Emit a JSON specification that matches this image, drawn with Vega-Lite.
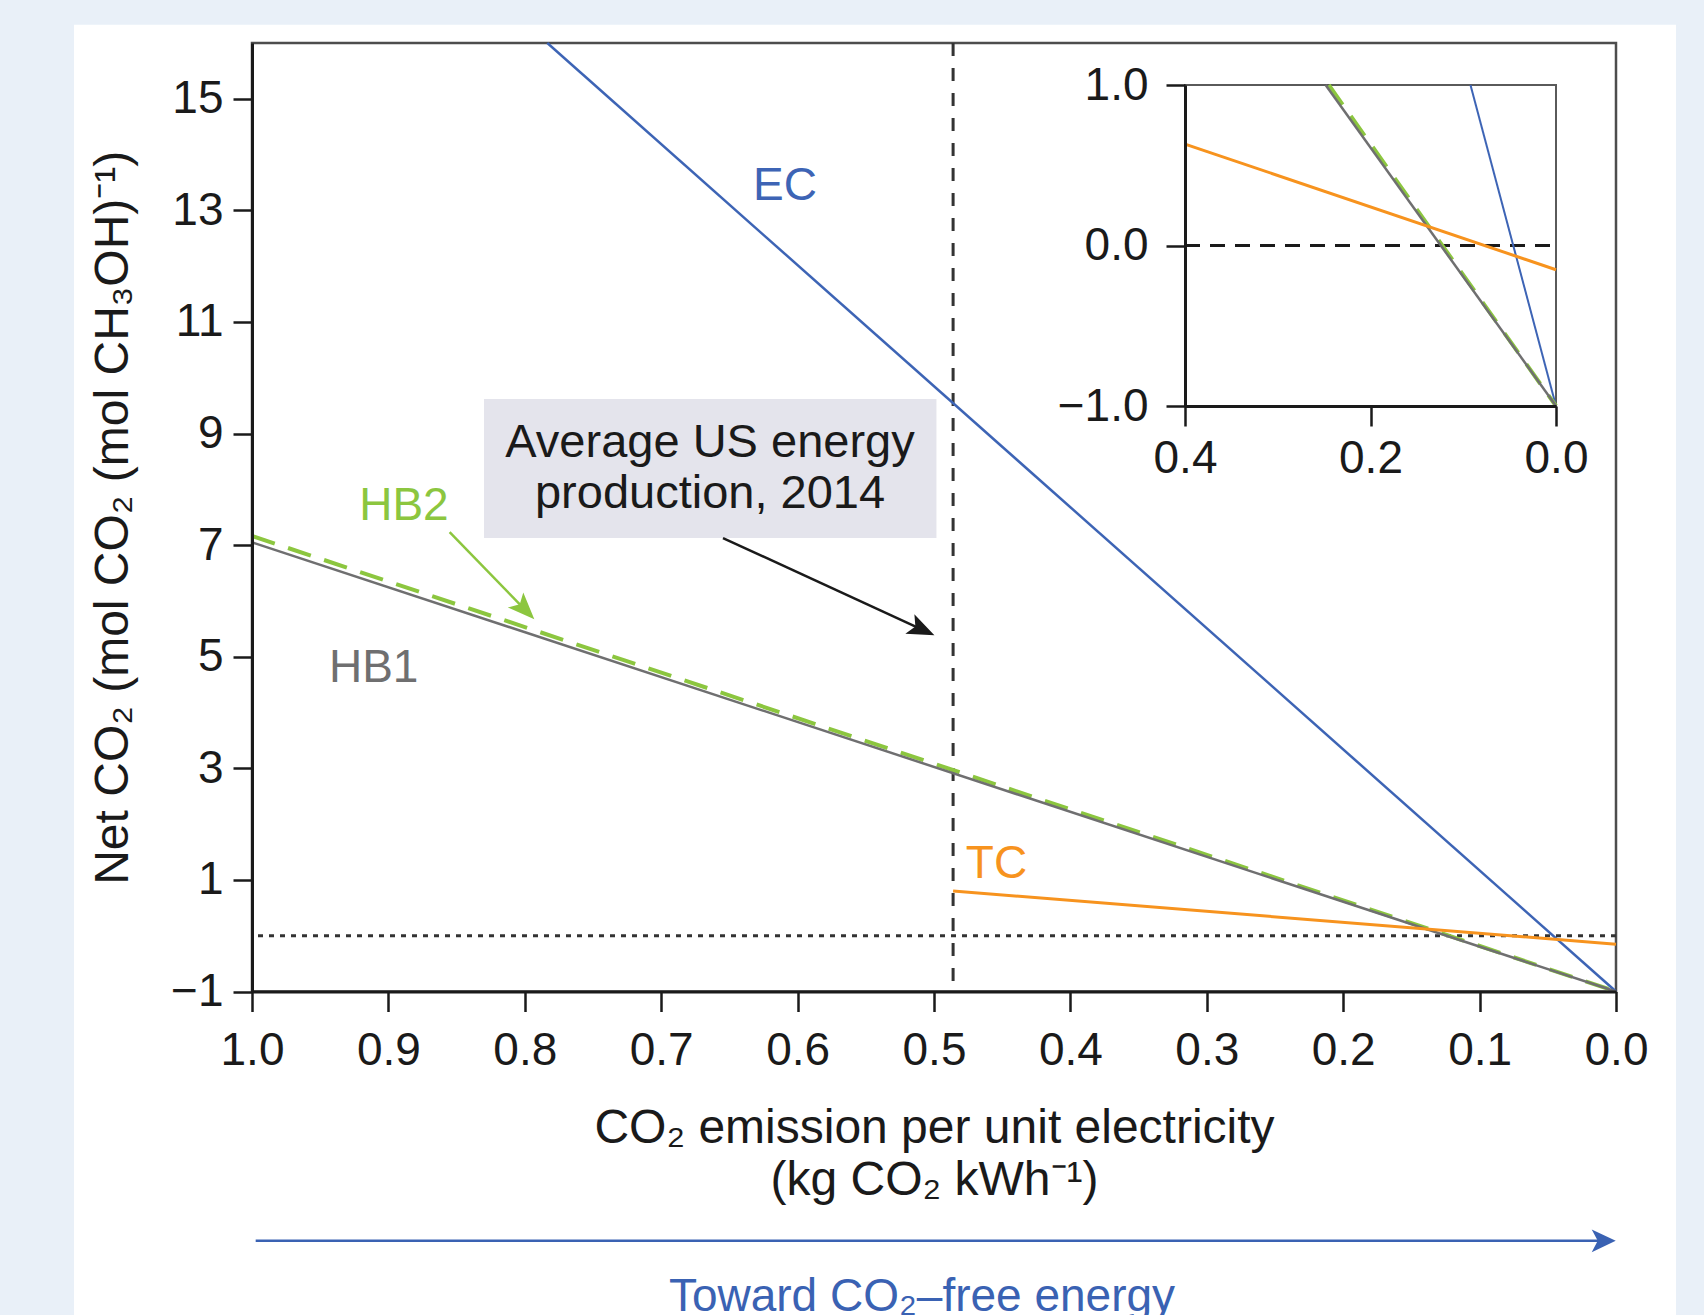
{
  "$schema": "https://vega.github.io/schema/vega-lite/v6.json",
  "width": 1364,
  "height": 948.5,
  "autosize": {"type": "none"},
  "padding": {"left": 252, "top": 43, "right": 88, "bottom": 323.5},
  "background": "white",
  "config": {
    "view": {"stroke": null},
    "font": "Liberation Sans",
    "axis": {
      "labelFont": "Liberation Sans",
      "titleFont": "Liberation Sans",
      "labelColor": "#1a1a1a",
      "titleColor": "#1a1a1a",
      "titleFontWeight": "normal",
      "grid": false,
      "domainColor": "#1a1a1a",
      "tickColor": "#1a1a1a",
      "domainWidth": 3,
      "tickWidth": 2.5,
      "labelFontSize": 46,
      "titleFontSize": 48
    }
  },
  "datasets": {
    "margins": [
      {"x": 1.1848, "x2": 1.1305, "y": 16.771, "y2": -6.9},
      {"x": 1.1848, "x2": -0.0646, "y": 16.771, "y2": 16.328},
      {"x": -0.044, "x2": -0.0646, "y": 16.771, "y2": -6.9}
    ],
    "frame": [{"x": 1, "x2": 0, "y": -1, "y2": 16}],
    "box": [{"x": 0.8299, "x2": 0.4982, "y": 9.619, "y2": 7.127}],
    "vline": [{"x": 0.486}],
    "hline": [{"y": 0}],
    "lines": [
      {"series": "EC", "x": 0.7835, "y": 16},
      {"series": "EC", "x": 0, "y": -1},
      {"series": "HB2", "x": 1, "y": 7.165},
      {"series": "HB2", "x": 0, "y": -1},
      {"series": "HB1", "x": 1, "y": 7.05},
      {"series": "HB1", "x": 0, "y": -1},
      {"series": "TC", "x": 0.486, "y": 0.8},
      {"series": "TC", "x": 0, "y": -0.151}
    ],
    "labels": [
      {"series": "EC", "x": 0.6092, "y": 13.44, "label": "EC"},
      {"series": "HB2", "x": 0.8886, "y": 7.71, "label": "HB2"},
      {"series": "HB1", "x": 0.9108, "y": 4.79, "label": "HB1"},
      {"series": "TC", "x": 0.4542, "y": 1.289, "label": "TC"}
    ],
    "note": [{"x": 0.6642, "y": 8.827, "label": "Average US energy\nproduction, 2014"}],
    "arrows": [
      {"series": "US", "x": 0.6547, "y": 7.127, "x2": 0.5087, "y2": 5.486},
      {"series": "HB2", "x": 0.8551, "y": 7.235, "x2": 0.7999, "y2": 5.844}
    ],
    "heads": [
      {"series": "US", "x": 0.5087, "y": 5.486},
      {"series": "HB2", "x": 0.7999, "y": 5.844}
    ],
    "toward": [{"x": 0.9973, "x2": 0.009, "y": -5.468, "label": "Toward CO₂–free energy", "tx": 0.5088, "ty": -6.73}],
    "insetframe": [{"x": 0.4, "x2": 0, "y": -1, "y2": 1}],
    "insetzero": [{"x": 0.4, "x2": 0, "y": 0}],
    "inset": [
      {"series": "EC", "x": 0.0922, "y": 1},
      {"series": "EC", "x": 0, "y": -1},
      {"series": "HB2", "x": 0.245, "y": 1},
      {"series": "HB2", "x": 0, "y": -1},
      {"series": "HB1", "x": 0.2484, "y": 1},
      {"series": "HB1", "x": 0, "y": -1},
      {"series": "TC", "x": 0.4, "y": 0.632},
      {"series": "TC", "x": 0, "y": -0.151}
    ]
  },
  "layer": [
    {
      "data": {"name": "margins"},
      "mark": {"type": "rect", "fill": "#e9f0f8", "clip": false},
      "encoding": {
        "x": {"field": "x", "type": "quantitative", "scale": {"domain": [1, 0], "nice": false, "zero": false}, "axis": null},
        "x2": {"field": "x2"},
        "y": {"field": "y", "type": "quantitative", "scale": {"domain": [-1, 16], "nice": false, "zero": false}, "axis": null},
        "y2": {"field": "y2"}
      }
    },
    {
      "data": {"name": "frame"},
      "mark": {"type": "rect", "fill": "white", "fillOpacity": 0, "stroke": "#4d4d4d", "strokeWidth": 2.5},
      "encoding": {
        "x": {
          "field": "x", "type": "quantitative",
          "scale": {"domain": [1, 0], "nice": false, "zero": false},
          "axis": {
            "orient": "bottom",
            "zindex": 2,
            "values": [1, 0.9, 0.8, 0.7, 0.6, 0.5, 0.4, 0.3, 0.2, 0.1, 0],
            "format": ".1f",
            "tickSize": 20,
            "labelPadding": 17,
            "labelFlush": false,
            "labelOverlap": false,
            "title": ["CO₂ emission per unit electricity", "(kg CO₂ kWh⁻¹)"],
            "titlePadding": 31,
            "titleLineHeight": 52
          }
        },
        "x2": {"field": "x2"},
        "y": {
          "field": "y", "type": "quantitative",
          "scale": {"domain": [-1, 16], "nice": false, "zero": false},
          "axis": {
            "orient": "left",
            "zindex": 2,
            "values": [-1, 1, 3, 5, 7, 9, 11, 13, 15],
            "tickSize": 19,
            "labelPadding": 10,
            "labelFlush": false,
            "labelOverlap": false,
            "title": "Net CO₂ (mol CO₂ (mol CH₃OH)⁻¹)",
            "titlePadding": 33
          }
        },
        "y2": {"field": "y2"}
      }
    },
    {
      "data": {"name": "box"},
      "mark": {"type": "rect", "fill": "#e4e4ec"},
      "encoding": {
        "x": {"field": "x", "type": "quantitative", "scale": {"domain": [1, 0], "nice": false, "zero": false}, "axis": null},
        "x2": {"field": "x2"},
        "y": {"field": "y", "type": "quantitative", "scale": {"domain": [-1, 16], "nice": false, "zero": false}, "axis": null},
        "y2": {"field": "y2"}
      }
    },
    {
      "data": {"name": "vline"},
      "mark": {"type": "rule", "color": "#333333", "strokeWidth": 3, "strokeDash": [13, 12]},
      "encoding": {"x": {"field": "x", "type": "quantitative", "scale": {"domain": [1, 0], "nice": false, "zero": false}, "axis": null}}
    },
    {
      "data": {"name": "hline"},
      "mark": {"type": "rule", "color": "#333333", "strokeWidth": 3, "strokeDash": [5, 6]},
      "encoding": {"y": {"field": "y", "type": "quantitative", "scale": {"domain": [-1, 16], "nice": false, "zero": false}, "axis": null}}
    },
    {
      "data": {"name": "lines"},
      "transform": [{"filter": "datum.series === 'EC'"}],
      "mark": {"type": "line", "strokeWidth": 2.5},
      "encoding": {
        "x": {"field": "x", "type": "quantitative", "scale": {"domain": [1, 0], "nice": false, "zero": false}, "axis": null},
        "y": {"field": "y", "type": "quantitative", "scale": {"domain": [-1, 16], "nice": false, "zero": false}, "axis": null},
        "color": {
          "field": "series", "type": "nominal", "legend": null,
          "scale": {"domain": ["EC", "HB1", "HB2", "TC", "US"], "range": ["#3d64b5", "#6f6f70", "#8cc63f", "#f7931e", "#1a1a1a"]}
        }
      }
    },
    {
      "data": {"name": "lines"},
      "transform": [{"filter": "datum.series === 'HB2'"}],
      "mark": {"type": "line", "strokeWidth": 4, "strokeDash": [24, 14]},
      "encoding": {
        "x": {"field": "x", "type": "quantitative", "scale": {"domain": [1, 0], "nice": false, "zero": false}, "axis": null},
        "y": {"field": "y", "type": "quantitative", "scale": {"domain": [-1, 16], "nice": false, "zero": false}, "axis": null},
        "color": {"field": "series", "type": "nominal", "legend": null}
      }
    },
    {
      "data": {"name": "lines"},
      "transform": [{"filter": "datum.series === 'HB1'"}],
      "mark": {"type": "line", "strokeWidth": 2.5},
      "encoding": {
        "x": {"field": "x", "type": "quantitative", "scale": {"domain": [1, 0], "nice": false, "zero": false}, "axis": null},
        "y": {"field": "y", "type": "quantitative", "scale": {"domain": [-1, 16], "nice": false, "zero": false}, "axis": null},
        "color": {"field": "series", "type": "nominal", "legend": null}
      }
    },
    {
      "data": {"name": "lines"},
      "transform": [{"filter": "datum.series === 'TC'"}],
      "mark": {"type": "line", "strokeWidth": 3},
      "encoding": {
        "x": {"field": "x", "type": "quantitative", "scale": {"domain": [1, 0], "nice": false, "zero": false}, "axis": null},
        "y": {"field": "y", "type": "quantitative", "scale": {"domain": [-1, 16], "nice": false, "zero": false}, "axis": null},
        "color": {"field": "series", "type": "nominal", "legend": null}
      }
    },
    {
      "data": {"name": "arrows"},
      "mark": {"type": "rule", "strokeWidth": 2.5},
      "encoding": {
        "x": {"field": "x", "type": "quantitative", "scale": {"domain": [1, 0], "nice": false, "zero": false}, "axis": null},
        "x2": {"field": "x2"},
        "y": {"field": "y", "type": "quantitative", "scale": {"domain": [-1, 16], "nice": false, "zero": false}, "axis": null},
        "y2": {"field": "y2"},
        "color": {"field": "series", "type": "nominal", "legend": null}
      }
    },
    {
      "data": {"name": "heads"},
      "transform": [{"filter": "datum.series === 'US'"}],
      "mark": {"type": "point", "shape": "M1,0L-1,-0.8L-0.55,0L-1,0.8Z", "filled": true, "size": 729, "angle": 24.7, "opacity": 1, "strokeWidth": 0},
      "encoding": {
        "x": {"field": "x", "type": "quantitative", "scale": {"domain": [1, 0], "nice": false, "zero": false}, "axis": null},
        "y": {"field": "y", "type": "quantitative", "scale": {"domain": [-1, 16], "nice": false, "zero": false}, "axis": null},
        "color": {"field": "series", "type": "nominal", "legend": null}
      }
    },
    {
      "data": {"name": "heads"},
      "transform": [{"filter": "datum.series === 'HB2'"}],
      "mark": {"type": "point", "shape": "M1,0L-1,-0.8L-0.55,0L-1,0.8Z", "filled": true, "size": 729, "angle": 45.9, "opacity": 1, "strokeWidth": 0},
      "encoding": {
        "x": {"field": "x", "type": "quantitative", "scale": {"domain": [1, 0], "nice": false, "zero": false}, "axis": null},
        "y": {"field": "y", "type": "quantitative", "scale": {"domain": [-1, 16], "nice": false, "zero": false}, "axis": null},
        "color": {"field": "series", "type": "nominal", "legend": null}
      }
    },
    {
      "data": {"name": "labels"},
      "mark": {"type": "text", "fontSize": 46, "align": "center", "baseline": "middle"},
      "encoding": {
        "x": {"field": "x", "type": "quantitative", "scale": {"domain": [1, 0], "nice": false, "zero": false}, "axis": null},
        "y": {"field": "y", "type": "quantitative", "scale": {"domain": [-1, 16], "nice": false, "zero": false}, "axis": null},
        "text": {"field": "label"},
        "color": {"field": "series", "type": "nominal", "legend": null}
      }
    },
    {
      "data": {"name": "note"},
      "mark": {"type": "text", "fontSize": 47, "align": "center", "baseline": "middle", "lineBreak": "\n", "lineHeight": 51, "color": "#1a1a1a"},
      "encoding": {
        "x": {"field": "x", "type": "quantitative", "scale": {"domain": [1, 0], "nice": false, "zero": false}, "axis": null},
        "y": {"field": "y", "type": "quantitative", "scale": {"domain": [-1, 16], "nice": false, "zero": false}, "axis": null},
        "text": {"field": "label"}
      }
    },
    {
      "data": {"name": "toward"},
      "mark": {"type": "rule", "color": "#3a62b3", "strokeWidth": 2.5, "clip": false},
      "encoding": {
        "x": {"field": "x", "type": "quantitative", "scale": {"domain": [1, 0], "nice": false, "zero": false}, "axis": null},
        "x2": {"field": "x2"},
        "y": {"field": "y", "type": "quantitative", "scale": {"domain": [-1, 16], "nice": false, "zero": false}, "axis": null}
      }
    },
    {
      "data": {"name": "toward"},
      "mark": {"type": "point", "shape": "M1,0L-1,-0.95L-0.5,0L-1,0.95Z", "filled": true, "size": 576, "opacity": 1, "strokeWidth": 0, "color": "#3a62b3", "clip": false},
      "encoding": {
        "x": {"field": "x2", "type": "quantitative", "scale": {"domain": [1, 0], "nice": false, "zero": false}, "axis": null},
        "y": {"field": "y", "type": "quantitative", "scale": {"domain": [-1, 16], "nice": false, "zero": false}, "axis": null}
      }
    },
    {
      "data": {"name": "toward"},
      "mark": {"type": "text", "fontSize": 46, "align": "center", "baseline": "alphabetic", "color": "#3a62b3", "clip": false},
      "encoding": {
        "x": {"field": "tx", "type": "quantitative", "scale": {"domain": [1, 0], "nice": false, "zero": false}, "axis": null},
        "y": {"field": "ty", "type": "quantitative", "scale": {"domain": [-1, 16], "nice": false, "zero": false}, "axis": null},
        "text": {"field": "label"}
      }
    },
    {
      "data": {"name": "insetframe"},
      "mark": {"type": "rect", "fill": "white", "fillOpacity": 0, "stroke": "#5a5a5a", "strokeWidth": 2},
      "encoding": {
        "x": {
          "field": "x", "type": "quantitative",
          "scale": {"domain": [0.4, 0], "range": [933, 1304], "nice": false, "zero": false},
          "axis": {
            "orient": "bottom",
            "zindex": 2,
            "offset": -585.5,
            "values": [0.4, 0.2, 0],
            "format": ".1f",
            "tickSize": 20,
            "labelPadding": 10,
            "labelFlush": false,
            "labelOverlap": false,
            "title": null
          }
        },
        "x2": {"field": "x2"},
        "y": {
          "field": "y", "type": "quantitative",
          "scale": {"domain": [-1, 1], "range": [363, 42], "nice": false, "zero": false},
          "axis": {
            "orient": "left",
            "zindex": 2,
            "offset": -933,
            "values": [-1, 0, 1],
            "format": ".1f",
            "tickSize": 19,
            "labelPadding": 18,
            "labelFlush": false,
            "labelOverlap": false,
            "title": null
          }
        },
        "y2": {"field": "y2"}
      }
    },
    {
      "data": {"name": "insetzero"},
      "mark": {"type": "rule", "color": "#1a1a1a", "strokeWidth": 3, "strokeDash": [15, 10]},
      "encoding": {
        "x": {"field": "x", "type": "quantitative", "scale": {"domain": [0.4, 0], "range": [933, 1304], "nice": false, "zero": false}, "axis": null},
        "x2": {"field": "x2"},
        "y": {"field": "y", "type": "quantitative", "scale": {"domain": [-1, 1], "range": [363, 42], "nice": false, "zero": false}, "axis": null}
      }
    },
    {
      "data": {"name": "inset"},
      "transform": [{"filter": "datum.series === 'EC'"}],
      "mark": {"type": "line", "strokeWidth": 2},
      "encoding": {
        "x": {"field": "x", "type": "quantitative", "scale": {"domain": [0.4, 0], "range": [933, 1304], "nice": false, "zero": false}, "axis": null},
        "y": {"field": "y", "type": "quantitative", "scale": {"domain": [-1, 1], "range": [363, 42], "nice": false, "zero": false}, "axis": null},
        "color": {"field": "series", "type": "nominal", "legend": null}
      }
    },
    {
      "data": {"name": "inset"},
      "transform": [{"filter": "datum.series === 'HB2'"}],
      "mark": {"type": "line", "strokeWidth": 4, "strokeDash": [24, 14]},
      "encoding": {
        "x": {"field": "x", "type": "quantitative", "scale": {"domain": [0.4, 0], "range": [933, 1304], "nice": false, "zero": false}, "axis": null},
        "y": {"field": "y", "type": "quantitative", "scale": {"domain": [-1, 1], "range": [363, 42], "nice": false, "zero": false}, "axis": null},
        "color": {"field": "series", "type": "nominal", "legend": null}
      }
    },
    {
      "data": {"name": "inset"},
      "transform": [{"filter": "datum.series === 'HB1'"}],
      "mark": {"type": "line", "strokeWidth": 2.5},
      "encoding": {
        "x": {"field": "x", "type": "quantitative", "scale": {"domain": [0.4, 0], "range": [933, 1304], "nice": false, "zero": false}, "axis": null},
        "y": {"field": "y", "type": "quantitative", "scale": {"domain": [-1, 1], "range": [363, 42], "nice": false, "zero": false}, "axis": null},
        "color": {"field": "series", "type": "nominal", "legend": null}
      }
    },
    {
      "data": {"name": "inset"},
      "transform": [{"filter": "datum.series === 'TC'"}],
      "mark": {"type": "line", "strokeWidth": 3},
      "encoding": {
        "x": {"field": "x", "type": "quantitative", "scale": {"domain": [0.4, 0], "range": [933, 1304], "nice": false, "zero": false}, "axis": null},
        "y": {"field": "y", "type": "quantitative", "scale": {"domain": [-1, 1], "range": [363, 42], "nice": false, "zero": false}, "axis": null},
        "color": {"field": "series", "type": "nominal", "legend": null}
      }
    }
  ],
  "resolve": {
    "scale": {"x": "independent", "y": "independent"}
  }
}
